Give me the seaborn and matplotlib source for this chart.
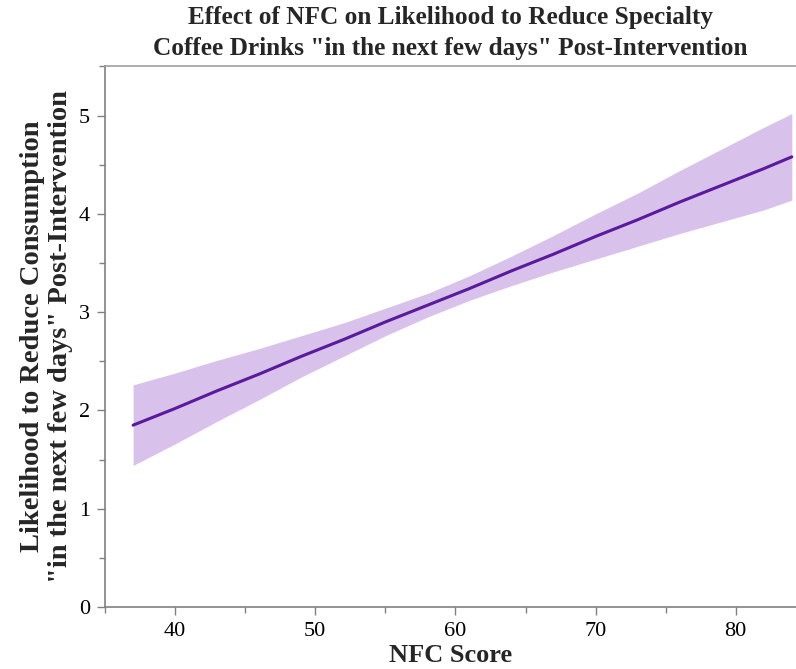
import matplotlib
matplotlib.use("Agg")
import matplotlib.pyplot as plt
import seaborn as sns
import pandas as pd
from matplotlib.ticker import MultipleLocator

nfc_score = [37, 40, 43, 46, 49, 52, 55, 58, 61, 64, 67, 70, 73, 76, 79, 82, 84]
predicted = [1.85, 2.02, 2.20, 2.37, 2.55, 2.72, 2.90, 3.07, 3.24, 3.42, 3.59, 3.77, 3.94, 4.12, 4.29, 4.46, 4.58]
ci_lower = [1.44, 1.66, 1.89, 2.11, 2.34, 2.55, 2.76, 2.95, 3.12, 3.27, 3.41, 3.54, 3.67, 3.80, 3.92, 4.04, 4.14]
ci_upper = [2.26, 2.38, 2.51, 2.63, 2.76, 2.89, 3.04, 3.19, 3.37, 3.57, 3.78, 4.00, 4.21, 4.44, 4.66, 4.88, 5.02]

title = 'Effect of NFC on Likelihood to Reduce Specialty\nCoffee Drinks "in the next few days" Post-Intervention'
xlabel = "NFC Score"
ylabel = 'Likelihood to Reduce Consumption\n"in the next few days" Post-Intervention'

df = pd.DataFrame({"nfc": nfc_score, "pred": predicted, "lo": ci_lower, "hi": ci_upper})

sns.set_style("ticks")
plt.rcParams["font.family"] = ["Liberation Serif", "DejaVu Serif"]

fig = plt.figure(figsize=(7.96, 6.69), dpi=100)
ax = fig.add_axes([0.132, 0.0927, 0.868, 0.808])

ax.fill_between(df["nfc"], df["lo"], df["hi"], color="#d8c1ea", linewidth=0)
sns.lineplot(data=df, x="nfc", y="pred", ax=ax, color="#5a1a9c", linewidth=2.2)

ax.set_xlim(35, 84.3)
ax.set_ylim(0, 5.5)
ax.xaxis.set_major_locator(MultipleLocator(10))
ax.xaxis.set_minor_locator(MultipleLocator(5))
ax.yaxis.set_major_locator(MultipleLocator(1))
ax.yaxis.set_minor_locator(MultipleLocator(0.5))

gray = "#808080"
ax.spines["right"].set_visible(False)
for s in ["left", "bottom"]:
    ax.spines[s].set_color(gray)
    ax.spines[s].set_linewidth(1.2)
ax.spines["top"].set_color("#a0a0a0")
ax.spines["top"].set_linewidth(1.2)
ax.tick_params(which="major", direction="out", length=6, color=gray, width=1, labelsize=16, labelcolor="black", pad=5)
ax.tick_params(which="minor", direction="out", length=4, color=gray, width=1)
ax.tick_params(axis="x", which="both", top=False)

ax.set_xlabel(xlabel, fontsize=19, fontweight="bold", labelpad=2)
ax.set_ylabel(ylabel, fontsize=20.5, fontweight="bold", labelpad=4, linespacing=1.15)
ax.set_title(title, fontsize=18.2, fontweight="bold", pad=8, linespacing=1.45)

fig.savefig("out.png", dpi=100)
